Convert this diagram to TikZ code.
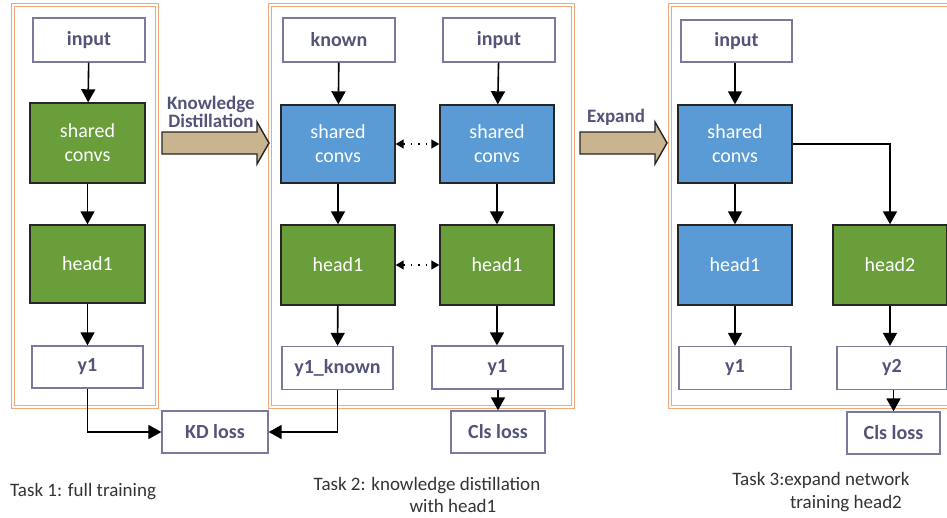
\documentclass[tikz,border=0pt]{standalone}
\usepackage{fontspec}
\setmainfont{Carlito}
\usetikzlibrary{arrows.meta}
\definecolor{boxgreen}{HTML}{6A9E3A}
\definecolor{boxblue}{HTML}{5B9BD5}
\definecolor{slate}{HTML}{54547A}
\definecolor{slateline}{HTML}{7A7A9C}
\definecolor{framecol}{HTML}{F0A87A}
\definecolor{tan}{HTML}{C8B48E}
\definecolor{captext}{HTML}{333333}
\tikzset{
  iobox/.style={draw=slateline, line width=1.3pt, fill=white, text=slate,
    font=\fontsize{20}{22}\selectfont\bfseries, inner sep=0pt},
  greenbox/.style={draw=black!85, line width=1.4pt, fill=boxgreen, text=white,
    font=\fontsize{20}{24}\selectfont, align=center, inner sep=0pt,
    minimum width=114pt},
  bluebox/.style={greenbox, fill=boxblue},
  flow/.style={line width=1.6pt, -{Triangle[width=14pt,length=13pt]}},
  dots/.style={line width=1.4pt, dash pattern=on 1.4pt off 6pt,
    {Triangle[width=9pt,length=8pt]}-{Triangle[width=9pt,length=8pt]}},
  taskframe/.style={draw=framecol, double=white, double distance=1.4pt, line width=1.2pt},
  blockarrow/.style={draw=black!85, line width=1.4pt, fill=tan, line join=miter},
  arrowlabel/.style={text=slate, font=\fontsize{19}{15}\selectfont\bfseries, align=center, inner sep=0pt},
  caption/.style={text=captext, font=\fontsize{19}{22}\selectfont, inner sep=0pt},
}
\begin{document}
\begin{tikzpicture}[x=1pt,y=-1pt]
\useasboundingbox (0,0) rectangle (947,517);

% task frames
\draw[taskframe] (13,5) rectangle (157,407);
\draw[taskframe] (270,5) rectangle (573,407);
\draw[taskframe] (670,5) rectangle (962,407);

% ---- Task 1: full training
\node[iobox, minimum width=112pt, minimum height=44pt] (a-in) at (89,40) {input};
\node[greenbox, minimum width=115pt, minimum height=80pt] (a-sc) at (87.5,143) {shared\\convs};
\node[greenbox, minimum width=115pt, minimum height=78pt] (a-h1) at (87.5,264) {head1};
\node[iobox, minimum width=111pt, minimum height=42pt] (a-y1) at (87.5,367) {y1};
\node[iobox, minimum width=106pt, minimum height=42pt] (kd) at (215,432) {KD loss};

\draw[flow] (a-in) -- (a-sc);
\draw[flow] (a-sc) -- (a-h1);
\draw[flow] (a-h1) -- (a-y1);
\draw[flow] (a-y1.south) |- (kd.west);

% knowledge distillation block arrow
\draw[blockarrow] (162,132) -- (257,132) -- (257,122) -- (269,143) -- (257,164)
  -- (257,154) -- (162,154) -- cycle;
\node[arrowlabel] (kdlabel) at (211,112) {Knowledge\\Distillation};

% ---- Task 2: knowledge distillation with head1
\node[iobox, minimum width=112pt, minimum height=44pt] (b-kn) at (339,40) {known};
\node[iobox, minimum width=112pt, minimum height=44pt] (b-in) at (499,40) {input};
\node[bluebox, minimum height=78pt] (b-scl) at (338,144) {shared\\convs};
\node[bluebox, minimum height=78pt] (b-scr) at (497,144) {shared\\convs};
\node[greenbox, minimum height=80pt] (b-hl) at (338,265) {head1};
\node[greenbox, minimum height=80pt] (b-hr) at (497,265) {head1};
\node[iobox, minimum width=111pt, minimum height=43pt] (b-yk) at (337.5,368) {y1\_known};
\node[iobox, minimum width=131pt, minimum height=43pt] (b-y1) at (497.5,367.5) {y1};
\node[iobox, minimum width=94pt, minimum height=42pt] (b-cls) at (498,432) {Cls loss};

\draw[flow] (b-kn) -- (b-scl);
\draw[flow] (b-in) -- (b-scr);
\draw[flow] (b-scl) -- (b-hl);
\draw[flow] (b-scr) -- (b-hr);
\draw[flow] (b-hl) -- (b-yk);
\draw[flow] (b-hr) -- (b-hr |- b-y1.north);
\draw[flow] (b-y1.south -| b-cls) -- (b-cls);
\draw[flow] (b-yk.south) |- (kd.east);
\draw[dots] (b-scl) -- (b-scr);
\draw[dots] (b-hl) -- (b-hr);

% expand block arrow
\draw[blockarrow] (580,132) -- (655,132) -- (655,122) -- (667,143) -- (655,164)
  -- (655,154) -- (580,154) -- cycle;
\node[arrowlabel] (exlabel) at (616,117) {Expand};

% ---- Task 3: expand network, training head2
\node[iobox, minimum width=111pt, minimum height=42pt] (c-in) at (736.5,41) {input};
\node[bluebox, minimum height=78pt] (c-sc) at (735,144) {shared\\convs};
\node[bluebox, minimum height=80pt] (c-h1) at (735,265) {head1};
\node[greenbox, minimum height=80pt] (c-h2) at (890,265) {head2};
\node[iobox, minimum width=112pt, minimum height=43pt] (c-y1) at (735,368) {y1};
\node[iobox, minimum width=110pt, minimum height=43pt] (c-y2) at (892,368) {y2};
\node[iobox, minimum width=93pt, minimum height=42pt] (c-cls) at (893.5,433) {Cls loss};

\draw[flow] (c-in.south -| c-sc) -- (c-sc);
\draw[flow] (c-sc) -- (c-h1);
\draw[flow] (c-sc.east) -| (c-h2.north);
\draw[flow] (c-h1) -- (c-y1);
\draw[flow] (c-h2) -- (c-h2 |- c-y2.north);
\draw[flow] (c-y2.south -| c-cls) -- (c-cls);

% task captions
\node[caption, anchor=west] (t1) at (10,492) {Task 1: full training};
\node[caption] (t2a) at (427,486) {Task 2: knowledge distillation};
\node[caption] (t2b) at (453,506) {with head1};
\node[caption] (t3a) at (821,480) {Task 3:expand network};
\node[caption] (t3b) at (846,504) {training head2};
\end{tikzpicture}
\end{document}
